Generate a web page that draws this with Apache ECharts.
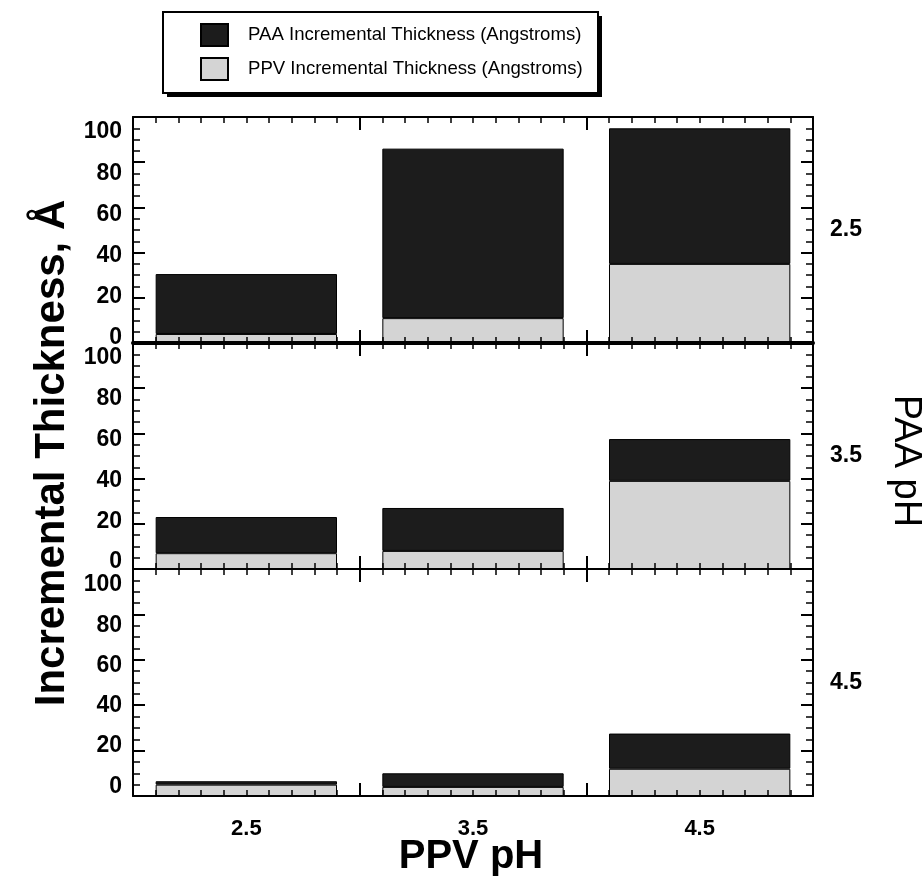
<!DOCTYPE html>
<html>
<head>
<meta charset="utf-8">
<script src="https://cdn.jsdelivr.net/npm/echarts@6/dist/echarts.min.js"></script>
<style>
html,body{margin:0;padding:0;background:#fff;}
#chart{width:922px;height:878px;}
</style>
</head>
<body>
<div id="chart"></div>
<script>
// ---- data ----
const ppvPH = ['2.5', '3.5', '4.5'];          // x categories (PPV pH)
const paaPH = ['2.5', '3.5', '4.5'];          // panel labels (PAA pH), top to bottom
const yTicks = [0, 20, 40, 60, 80, 100];
// PPV incremental thickness per panel (PAA pH 2.5, 3.5, 4.5)
const ppvPanel1 = [4, 11, 35];
const ppvPanel2 = [7, 8, 39];
const ppvPanel3 = [5, 4, 12];
// PAA incremental thickness per panel
const paaPanel1 = [26.5, 75, 60];
const paaPanel2 = [16, 19, 18.5];
const paaPanel3 = [1.5, 6, 15.5];
const ppvName = 'PPV Incremental Thickness (Angstroms)';
const paaName = 'PAA Incremental Thickness (Angstroms)';

const ppvData = [ppvPanel1, ppvPanel2, ppvPanel3];
const paaData = [paaPanel1, paaPanel2, paaPanel3];

// ---- layout ----
const FONT = 'Liberation Sans, Arial, Helvetica, sans-serif';
const gridTops = [117, 343, 569];
const gridHeights = [226, 226, 227];
const labelRanges = [[-2.4, 107.3], [-3.4, 107.3], [-4.8, 108]];
const bottomLineWidth = [4, 2, 2];

const chart = echarts.init(document.getElementById('chart'), null, {renderer: 'canvas'});

const grids = [], xAxes = [], yAxes = [], series = [];
for (let i = 0; i < 3; i++) {
  grids.push({left: 133, width: 680, top: gridTops[i], height: gridHeights[i], containLabel: false});
  // category axis for bars
  xAxes.push({
    gridIndex: i, type: 'category', data: ppvPH, position: 'bottom',
    axisLine: {show: false, onZero: false}, axisTick: {show: false},
    axisLabel: {show: i === 2, margin: 22, color: '#000', fontSize: 22, fontWeight: 'bold', fontFamily: FONT},
    splitLine: {show: false}
  });
  // bottom tick axis
  xAxes.push({
    gridIndex: i, type: 'value', min: 0, max: 3, interval: 1, position: 'bottom', z: 5,
    axisLine: {show: true, onZero: false, lineStyle: {color: '#000', width: bottomLineWidth[i]}},
    axisTick: {show: true, inside: true, length: 13, lineStyle: {color: '#000', width: 2}},
    minorTick: {show: true, splitNumber: 10, length: 6, lineStyle: {color: '#000', width: 1.5}},
    axisLabel: {show: false}, splitLine: {show: false}, minorSplitLine: {show: false}
  });
  // top tick axis
  xAxes.push({
    gridIndex: i, type: 'value', min: 0, max: 3, interval: 1, position: 'top', z: 5,
    axisLine: {show: true, onZero: false, lineStyle: {color: '#000', width: 2}},
    axisTick: {show: true, inside: true, length: 13, lineStyle: {color: '#000', width: 2}},
    minorTick: {show: true, splitNumber: 10, length: 6, lineStyle: {color: '#000', width: 1.5}},
    axisLabel: {show: false}, splitLine: {show: false}, minorSplitLine: {show: false}
  });
  // left value axis
  yAxes.push({
    gridIndex: i, type: 'value', min: 0, max: 100, interval: 20, position: 'left', z: 5,
    axisLine: {show: true, onZero: false, lineStyle: {color: '#000', width: 2}},
    axisTick: {show: true, inside: true, length: 12, lineStyle: {color: '#000', width: 2}},
    minorTick: {show: true, splitNumber: 4, length: 7, lineStyle: {color: '#000', width: 1.5}},
    axisLabel: {show: false}, splitLine: {show: false}, minorSplitLine: {show: false}
  });
  // right value axis with panel label
  yAxes.push({
    gridIndex: i, type: 'value', min: 0, max: 100, interval: 20, position: 'right', z: 5,
    name: paaPH[i], nameLocation: 'middle', nameRotate: 0, nameGap: 17,
    nameTextStyle: {color: '#000', fontSize: 23, fontWeight: 'bold', fontFamily: FONT, align: 'left', verticalAlign: 'middle'},
    axisLine: {show: true, onZero: false, lineStyle: {color: '#000', width: 2}},
    axisTick: {show: true, inside: true, length: 12, lineStyle: {color: '#000', width: 2}},
    minorTick: {show: true, splitNumber: 4, length: 7, lineStyle: {color: '#000', width: 1.5}},
    axisLabel: {show: false}, splitLine: {show: false}, minorSplitLine: {show: false}
  });
  // label-only axis
  yAxes.push({
    gridIndex: i, type: 'value', min: labelRanges[i][0], max: labelRanges[i][1], position: 'left',
    axisLine: {show: false, onZero: false}, axisTick: {show: false},
    axisLabel: {show: true, customValues: yTicks, margin: 11, color: '#000', fontSize: 23, fontWeight: 'bold', fontFamily: FONT},
    splitLine: {show: false}
  });
  series.push({
    name: ppvName, type: 'bar', xAxisIndex: 3 * i, yAxisIndex: 3 * i, stack: 'p' + i,
    data: ppvData[i], barWidth: '80%',
    itemStyle: {color: '#d4d4d4', borderColor: '#000', borderWidth: 1}
  });
  series.push({
    name: paaName, type: 'bar', xAxisIndex: 3 * i, yAxisIndex: 3 * i, stack: 'p' + i,
    data: paaData[i], barWidth: '80%',
    itemStyle: {color: '#1c1c1c', borderColor: '#000', borderWidth: 1}
  });
}

const option = {
  animation: false,
  backgroundColor: '#fff',
  legend: {
    data: [paaName, ppvName], orient: 'vertical', left: 200, top: 23, z: 10,
    icon: 'rect', itemWidth: 27, itemHeight: 22, itemGap: 10, selectedMode: false,
    padding: 0,
    textStyle: {color: '#000', fontSize: 18.6, fontFamily: FONT, padding: [0, 0, 0, 15]}
  },
  grid: grids, xAxis: xAxes, yAxis: yAxes, series: series,
  graphic: [
    {type: 'rect', z: 1, shape: {x: 167, y: 16, width: 435, height: 81}, style: {fill: '#000'}},
    {type: 'rect', z: 2, shape: {x: 163, y: 12, width: 435, height: 81}, style: {fill: '#fff', stroke: '#000', lineWidth: 2}},
    {type: 'text', x: 52, y: 453, rotation: Math.PI / 2,
     style: {text: 'Incremental Thickness, Å', font: 'bold 42px ' + FONT, fill: '#000', align: 'center', verticalAlign: 'middle'}},
    {type: 'text', x: 905, y: 461, rotation: -Math.PI / 2,
     style: {text: 'PAA pH', font: '38px ' + FONT, fill: '#000', align: 'center', verticalAlign: 'middle'}},
    {type: 'text', x: 471, y: 857,
     style: {text: 'PPV pH', font: 'bold 40px ' + FONT, fill: '#000', align: 'center', verticalAlign: 'middle'}}
  ]
};
chart.setOption(option);
</script>
</body>
</html>
